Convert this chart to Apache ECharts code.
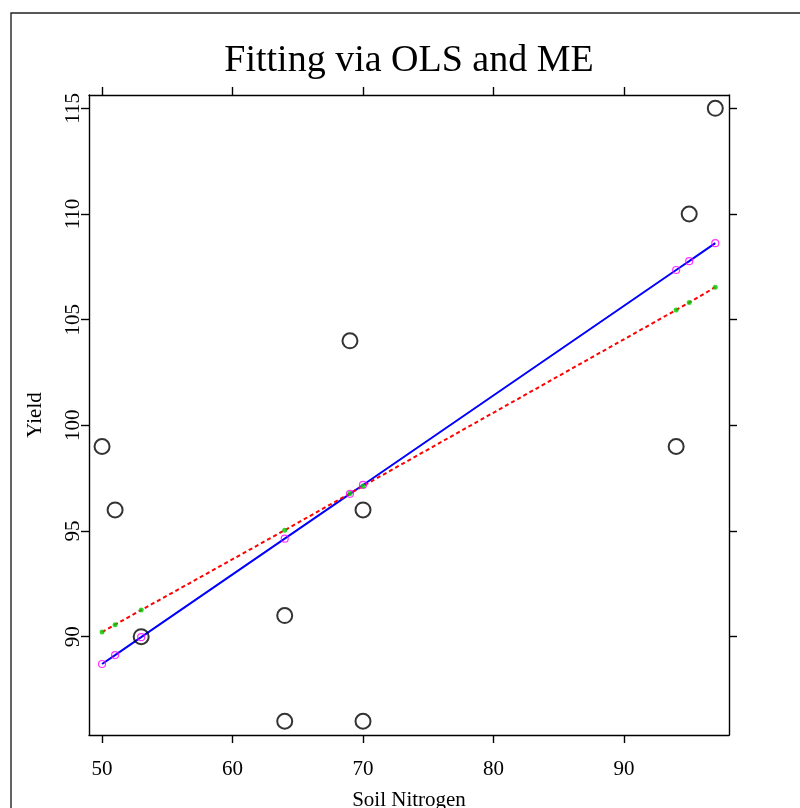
<!DOCTYPE html>
<html>
<head>
<meta charset="utf-8">
<script src="https://cdn.jsdelivr.net/npm/echarts@6/dist/echarts.min.js"></script>
<style>
html,body{margin:0;padding:0;background:#fff;}
#chart{width:800px;height:808px;}
</style>
</head>
<body>
<div id="chart"></div>
<script>
// Observed data
const nitrogen = [50, 51, 53, 64, 64, 70, 69, 70, 94, 95, 97];
const yieldVals = [99, 96, 90, 91, 86, 86, 104, 96, 99, 110, 115];
// Fitted values
const fitX   = [50, 51, 53, 64, 69, 70, 94, 95, 97];
const olsFit = [88.71, 89.13, 89.98, 94.64, 96.76, 97.18, 107.35, 107.77, 108.62];
const meFit  = [90.22, 90.57, 91.26, 95.04, 96.78, 97.13, 105.46, 105.81, 106.54];
// Tick values
const xTicks = [50, 60, 70, 80, 90];
const yTicks = [90, 95, 100, 105, 110, 115];
const titleText = 'Fitting via OLS and ME';
const xName = 'Soil Nitrogen';
const yName = 'Yield';

const pts = nitrogen.map((x, i) => [x, yieldVals[i]]);
const ols = fitX.map((x, i) => [x, olsFit[i]]);
const me = fitX.map((x, i) => [x, meFit[i]]);

const FONT = '"Liberation Serif", "Times New Roman", serif';
const axisCommon = {
  type: 'value',
  splitLine: { show: false },
  axisLine: { show: true, onZero: false, lineStyle: { color: '#000', width: 1.4 } },
  axisTick: { show: true, length: 8, lineStyle: { color: '#000', width: 1.4 } }
};

const chart = echarts.init(document.getElementById('chart'), null, { renderer: 'canvas' });
chart.setOption({
  animation: false,
  backgroundColor: '#fff',
  grid: { left: 89, top: 95, width: 640, height: 640, containLabel: false, outerBoundsMode: 'none' },
  xAxis: [
    Object.assign({}, axisCommon, {
      position: 'bottom', min: 49.0, max: 98.05,
      axisTick: Object.assign({}, axisCommon.axisTick, { customValues: xTicks }),
      axisLabel: { customValues: xTicks, margin: 24, color: '#000', fontFamily: FONT, fontSize: 21 },
      name: xName, nameLocation: 'middle', nameGap: 55,
      nameTextStyle: { color: '#000', fontFamily: FONT, fontSize: 21 }
    }),
    Object.assign({}, axisCommon, {
      position: 'top', min: 49.0, max: 98.05,
      axisTick: Object.assign({}, axisCommon.axisTick, { customValues: xTicks }),
      axisLabel: { show: false }
    })
  ],
  yAxis: [
    Object.assign({}, axisCommon, {
      position: 'left', min: 85.35, max: 115.63,
      axisTick: Object.assign({}, axisCommon.axisTick, { customValues: yTicks }),
      axisLabel: { customValues: yTicks, rotate: 90, margin: 5, color: '#000', fontFamily: FONT, fontSize: 21 },
      name: yName, nameLocation: 'middle', nameGap: 43, nameRotate: 90,
      nameTextStyle: { color: '#000', fontFamily: FONT, fontSize: 21 }
    }),
    Object.assign({}, axisCommon, {
      position: 'right', min: 85.35, max: 115.63,
      axisTick: Object.assign({}, axisCommon.axisTick, { customValues: yTicks }),
      axisLabel: { show: false }
    })
  ],
  graphic: [
    { type: 'rect', silent: true, z: 100,
      shape: { x: 11, y: 13, width: 900, height: 900 },
      style: { fill: 'none', stroke: '#222', lineWidth: 1.4 } },
    { type: 'text', silent: true, z: 100,
      style: { x: 409, y: 61, text: titleText, textAlign: 'center', textVerticalAlign: 'middle',
               font: '38px ' + FONT, fill: '#000' } }
  ],
  series: [
    { type: 'line', data: ols, showSymbol: false, symbol: 'none', z: 2,
      lineStyle: { color: '#0000ff', width: 2 } },
    { type: 'line', data: me, showSymbol: false, symbol: 'none', z: 3,
      lineStyle: { color: '#ff0000', width: 2, type: [4, 3] } },
    { type: 'scatter', data: ols, symbol: 'circle', symbolSize: 7, z: 4,
      itemStyle: { color: 'transparent', borderColor: '#ff00ff', borderWidth: 1.2 } },
    { type: 'scatter', data: me, symbol: 'circle', symbolSize: 5, z: 4,
      itemStyle: { color: '#00cc00', borderWidth: 0 } },
    { type: 'scatter', data: pts, symbol: 'circle', symbolSize: 15, z: 5,
      itemStyle: { color: 'transparent', borderColor: '#000', borderWidth: 2 } }
  ]
});
</script>
</body>
</html>
